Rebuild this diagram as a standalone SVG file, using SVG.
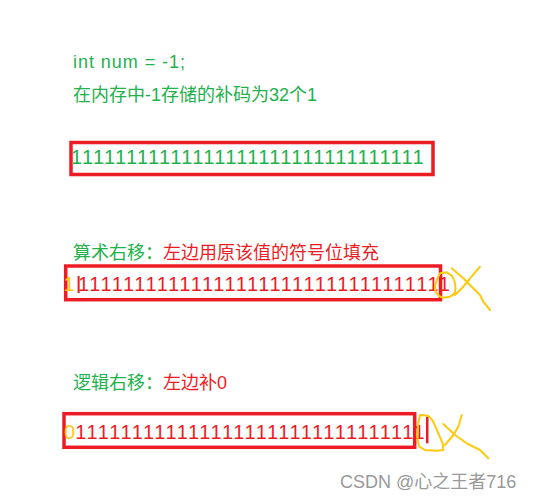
<svg xmlns="http://www.w3.org/2000/svg" width="544" height="500" viewBox="0 0 544 500">
<style>
  .t{font-family:"Liberation Sans","Noto Sans CJK SC",sans-serif;font-size:18px}
  .d{font-family:"Liberation Sans","Noto Sans CJK SC",sans-serif;font-size:20px}
  .g{fill:#22b14c}
  .r{fill:#ed1c24}
  .y{fill:#ffc90e}
  .box{fill:none;stroke:#ed1c24;stroke-width:3.5}
  .scr{fill:none;stroke:#ffc90e;stroke-width:2;stroke-linecap:round;stroke-linejoin:round}
</style>
<rect width="544" height="500" fill="#ffffff"/>
<g id="intro">
  <text class="t g" x="73" y="68" textLength="112" lengthAdjust="spacing">int num = -1;</text>
  <text class="t g" x="73" y="101">在内存中-1存储的补码为32个1</text>
</g>
<g id="row1">
  <rect class="box" x="71" y="142.5" width="362" height="32"/>
  <text class="d g" x="71" y="164" textLength="352.6" lengthAdjust="spacing">11111111111111111111111111111111</text>
</g>
<g id="row2">
  <text class="t g" x="73" y="258.5">算术右移：<tspan class="r">左边用原该值的符号位填充</tspan></text>
  <rect class="box" x="65.7" y="266" width="374.8" height="33.7"/>
  <text class="d y" x="63.6" y="291">1</text>
  <rect x="77.6" y="276" width="2" height="17" fill="#ed1c24"/>
  <text class="d r" x="77.9" y="291" textLength="371.9" lengthAdjust="spacing">111111111111111111111111111111111</text>
  <path class="scr" d="M440,273.3 C437,279 435,284 435,288.3 C435.5,293 438.3,295 438.3,295 C440,297 443.3,297.7 443.3,297.7 L450,296.7 C453,295 455,292.3 455,292.3 C456,289 455,283.3 455,283.3 C454,279 451.7,275.7 451.7,275.7 L446.7,272.3 Z"/>
  <path class="scr" d="M451.7,268.3 L463.3,278.3 L468.3,283.3 L480,295 L483.3,301.7 L490,310"/>
  <path class="scr" d="M480,266.7 L470,278.3 L463.3,286.7 L455,295"/>
</g>
<g id="row3">
  <text class="t g" x="73" y="389">逻辑右移：<tspan class="r">左边补0</tspan></text>
  <rect class="box" x="64" y="413.7" width="350.7" height="33.6"/>
  <text class="d y" x="64" y="438.5">0</text>
  <text class="d r" x="75.3" y="438.5" textLength="349.4" lengthAdjust="spacing">1111111111111111111111111111111</text>
  <rect x="426" y="416.7" width="2.5" height="26.6" fill="#ed1c24"/>
  <path class="scr" d="M420,415 C425,415 428.3,416 428.3,416 C431,418 433.3,421.7 433.3,421.7 L438.3,433.3 L442.7,443.3 L443.3,450 L436.7,450.7 L425,450 L419.3,446.7 C418,442 417.3,436.7 417.3,436.7 L418.3,423.3 Z"/>
  <path class="scr" d="M443.3,424 L455,435 L466.7,443.3 L480,450 L488.3,458.3"/>
  <path class="scr" d="M461.7,415 L458.3,426.7 L453.3,435 L445,445"/>
</g>
<g id="watermark">
  <text class="t" x="340" y="487.5" fill="#999999">CSDN @心之王者716</text>
</g>
</svg>
